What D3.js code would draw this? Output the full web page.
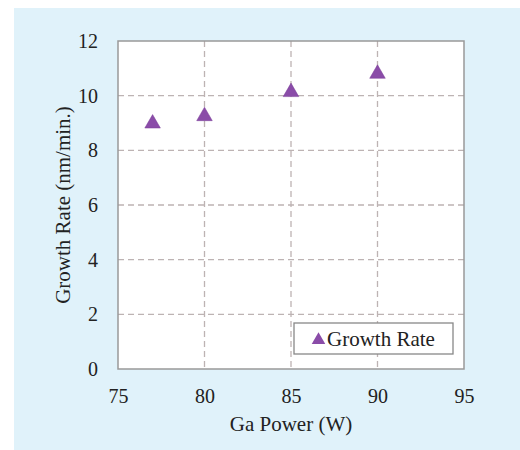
<!DOCTYPE html>
<html><head><meta charset="utf-8">
<script src="https://cdn.jsdelivr.net/npm/d3@7"></script>
<style>body{margin:0;background:#fff}svg{display:block}</style>
</head><body>
<script>
const gaPower = [77, 80, 85, 90];
const growthRate = [8.98, 9.25, 10.13, 10.8];
const xTicks = [75, 80, 85, 90, 95];
const yTicks = [0, 2, 4, 6, 8, 10, 12];
const seriesName = "Growth Rate";

const W = 520, H = 450;
const svg = d3.select("body").append("svg").attr("width", W).attr("height", H);
svg.append("rect").attr("x", 14).attr("y", 8).attr("width", W - 14).attr("height", H - 8).attr("fill", "#e0f2fa");

const m = {l: 118, r: 464, t: 41, b: 369};
const x = d3.scaleLinear().domain([75, 95]).range([m.l, m.r]);
const y = d3.scaleLinear().domain([0, 12]).range([m.b, m.t]);
const font = "'Liberation Serif', 'Times New Roman', serif";
const fs = 20;

svg.append("rect").attr("x", m.l).attr("y", m.t).attr("width", m.r - m.l).attr("height", m.b - m.t).attr("fill", "#fff");

// grid
svg.append("g").selectAll("line").data(xTicks.slice(1, -1)).join("line")
  .attr("x1", d => x(d)).attr("x2", d => x(d)).attr("y1", m.t).attr("y2", m.b)
  .attr("stroke", "#bdb3b3").attr("stroke-width", 1.3).attr("stroke-dasharray", "6,4");
svg.append("g").selectAll("line").data(yTicks.slice(1, -1)).join("line")
  .attr("y1", d => y(d)).attr("y2", d => y(d)).attr("x1", m.l).attr("x2", m.r)
  .attr("stroke", "#bdb3b3").attr("stroke-width", 1.3).attr("stroke-dasharray", "6,4");

// frame
svg.append("rect").attr("x", m.l).attr("y", m.t).attr("width", m.r - m.l).attr("height", m.b - m.t)
  .attr("fill", "none").attr("stroke", "#999").attr("stroke-width", 1.5);

// axes labels via d3 axes
const xAxis = svg.append("g").attr("transform", `translate(0,${m.b})`)
  .call(d3.axisBottom(x).tickValues(xTicks).tickSize(0).tickPadding(20));
const yAxis = svg.append("g").attr("transform", `translate(${m.l},0)`)
  .call(d3.axisLeft(y).tickValues(yTicks).tickSize(0).tickPadding(20));
[xAxis, yAxis].forEach(a => {
  a.attr("font-size", null).attr("font-family", null);
  a.select(".domain").remove();
  a.selectAll("text").style("font-family", font).style("font-size", fs + "px").attr("fill", "#222");
});

svg.append("text").attr("x", (m.l + m.r) / 2).attr("y", 431).attr("text-anchor", "middle")
  .style("font-family", font).style("font-size", "21px").attr("fill", "#222").text("Ga Power (W)");
svg.append("text").attr("transform", `translate(70,${(m.t + m.b) / 2}) rotate(-90)`).attr("text-anchor", "middle")
  .style("font-family", font).style("font-size", "21px").attr("fill", "#222").text("Growth Rate (nm/min.)");

// points
const tri = d3.symbol().type(d3.symbolTriangle).size(105);
svg.append("g").selectAll("path").data(gaPower).join("path")
  .attr("d", tri).attr("transform", (d, i) => `translate(${x(d)},${y(growthRate[i])})`)
  .attr("fill", "#8a4ca8").attr("stroke", "#7a3c98").attr("stroke-width", 0.5);

// legend
const lg = svg.append("g");
lg.append("rect").attr("x", 294).attr("y", 323).attr("width", 159).attr("height", 31)
  .attr("fill", "#fff").attr("stroke", "#888").attr("stroke-width", 1.3);
lg.append("path").attr("d", d3.symbol().type(d3.symbolTriangle).size(80))
  .attr("transform", "translate(318.5,340)").attr("fill", "#8a4ca8");
lg.append("text").attr("x", 327).attr("y", 346).style("font-family", font).style("font-size", "21px")
  .attr("fill", "#222").text(seriesName);
</script>
</body></html>
